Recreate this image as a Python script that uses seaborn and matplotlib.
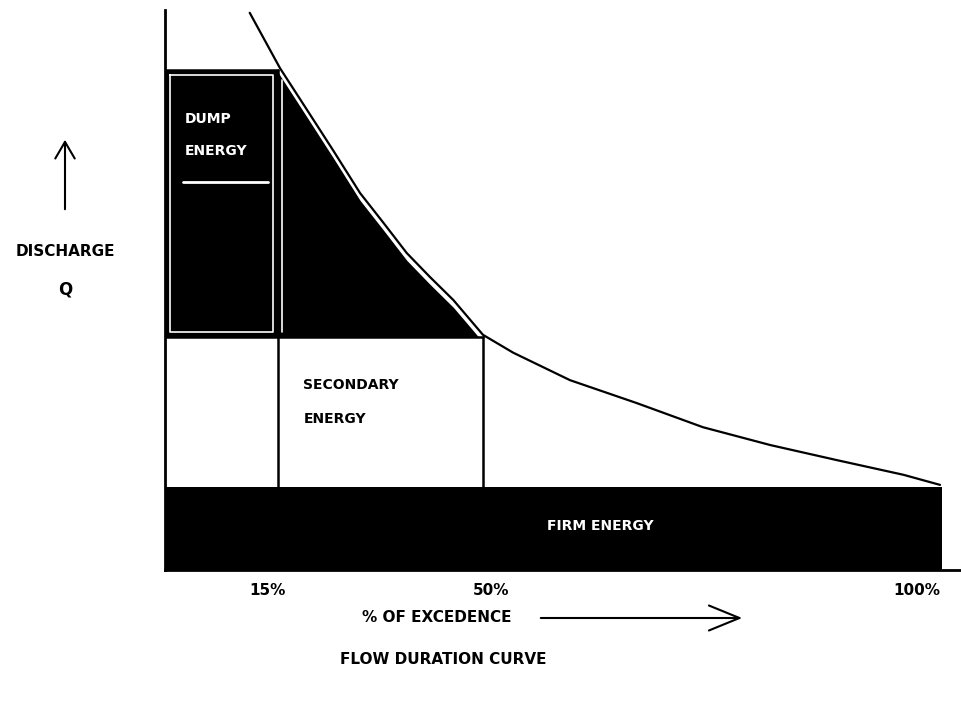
import numpy as np
import matplotlib
matplotlib.use("Agg")
import matplotlib.pyplot as plt
import matplotlib.patches as mpatches
import seaborn as sns

sns.set_theme(style="white")
plt.rcParams["font.family"] = ["DejaVu Sans"]
plt.rcParams["text.color"] = "black"

# ── Data (x in % of exceedance scale, y in discharge units) ──
curve_x = [10.9, 14.8, 18.3, 21.6, 25.1, 28.1, 31.1, 34.1, 37.1, 40.9,
           44.8, 52.1, 60.7, 69.2, 77.9, 86.5, 95.0, 99.7]
curve_q = [99.5, 89.6, 82.1, 75.0, 67.3, 62.0, 56.6, 52.3, 48.2, 42.0,
           38.8, 33.9, 29.8, 25.5, 22.3, 19.6, 17.0, 15.2]
x_marks = [14.5, 40.9, 100.0]
x_labels = ["15%", "50%", "100%"]
label_shift = [-7.2, 5.8, -18.7]   # points, hand-placed labels in the sketch
firm_q = 14.8
secondary_q = 41.6
dump_q = 89.3

fig = plt.figure(figsize=(9.61, 7.07), dpi=100)
ax = fig.add_axes([165 / 961, 137 / 707, 796 / 961, 560 / 707])
ax.set_xlim(0, 102.4)
ax.set_ylim(0, 100)

# ── firm energy band ──
ax.fill_between([0, x_marks[2]], 0, firm_q, color="black", lw=0)
ax.text(56, firm_q / 2 + 0.5, "FIRM ENERGY", color="white", fontsize=10,
        fontweight="bold", ha="center", va="center")

# ── dump energy block (left rectangle) ──
ax.fill_between([0, x_marks[0]], secondary_q, dump_q, color="black", lw=0)
ax.plot([0.6, x_marks[0] - 0.6, x_marks[0] - 0.6, 0.6, 0.6],
        [dump_q - 0.9, dump_q - 0.9, secondary_q + 0.9, secondary_q + 0.9, dump_q - 0.9],
        color="white", lw=1.2)

# ── dump energy under the curve ──
grid = np.linspace(x_marks[0], x_marks[1], 300)
top = np.interp(grid, curve_x, curve_q) - 1.3
top = np.maximum(top, secondary_q)
ax.fill_between(grid, secondary_q, top, color="black", lw=0)
ax.plot([x_marks[0] + 0.6] * 2,
        [secondary_q + 0.9, np.interp(x_marks[0] + 0.6, curve_x, curve_q) - 1.5],
        color="white", lw=1.2)

# ── flow duration curve ──
sns.lineplot(x=curve_x, y=curve_q, ax=ax, color="black", lw=1.6, sort=False)

# ── frame lines ──
ax.plot([0, x_marks[0]], [dump_q, dump_q], color="black", lw=1.8)
ax.plot([0, x_marks[1]], [secondary_q, secondary_q], color="black", lw=1.8)
ax.plot([x_marks[0], x_marks[0]], [firm_q, dump_q], color="black", lw=1.8)
ax.plot([x_marks[1], x_marks[1]], [firm_q, secondary_q], color="black", lw=1.8)

# ── labels inside ──
ax.text(2.6, 80.5, "DUMP", color="white", fontsize=10, fontweight="bold", va="center")
ax.text(2.6, 74.8, "ENERGY", color="white", fontsize=10, fontweight="bold", va="center")
ax.plot([2.3, 13.3], [69.2, 69.2], color="white", lw=2)
ax.text(17.8, 33.0, "SECONDARY", color="black", fontsize=10, fontweight="bold", va="center")
ax.text(17.8, 27.0, "ENERGY", color="black", fontsize=10, fontweight="bold", va="center")

# ── axes ──
for s in ["top", "right"]:
    ax.spines[s].set_visible(False)
for s in ["left", "bottom"]:
    ax.spines[s].set_color("black")
    ax.spines[s].set_linewidth(2)
ax.set_xticks([])
ax.set_yticks([])
for xm, lab, dx in zip(x_marks, x_labels, label_shift):
    ax.annotate(lab, xy=(xm, 0), xycoords=("data", "axes fraction"),
                xytext=(dx, -15), textcoords="offset points",
                ha="center", va="center", fontsize=11, fontweight="bold", color="black")

# ── discharge label and arrow ──
fig.text(65 / 961, 1 - 252 / 707, "DISCHARGE", fontsize=11, fontweight="bold",
         ha="center", va="center", color="black")
fig.text(65 / 961, 1 - 290 / 707, "Q", fontsize=12, fontweight="bold",
         ha="center", va="center", color="black")
fig.patches.append(mpatches.FancyArrowPatch(
    (65 / 961, 1 - 212 / 707), (65 / 961, 1 - 137 / 707), transform=fig.transFigure,
    arrowstyle="->,head_length=12,head_width=7", color="black", lw=1.5))

# ── x label and arrow ──
fig.text(437 / 961, 1 - 618 / 707, "% OF EXCEDENCE", fontsize=11, fontweight="bold",
         ha="center", va="center", color="black")
fig.patches.append(mpatches.FancyArrowPatch(
    (538 / 961, 1 - 618 / 707), (745 / 961, 1 - 618 / 707), transform=fig.transFigure,
    arrowstyle="->,head_length=22,head_width=9", color="black", lw=1.5))
fig.text(443 / 961, 1 - 660 / 707, "FLOW DURATION CURVE", fontsize=11, fontweight="bold",
         ha="center", va="center", color="black")

fig.savefig("out.png", dpi=100, facecolor="white")
